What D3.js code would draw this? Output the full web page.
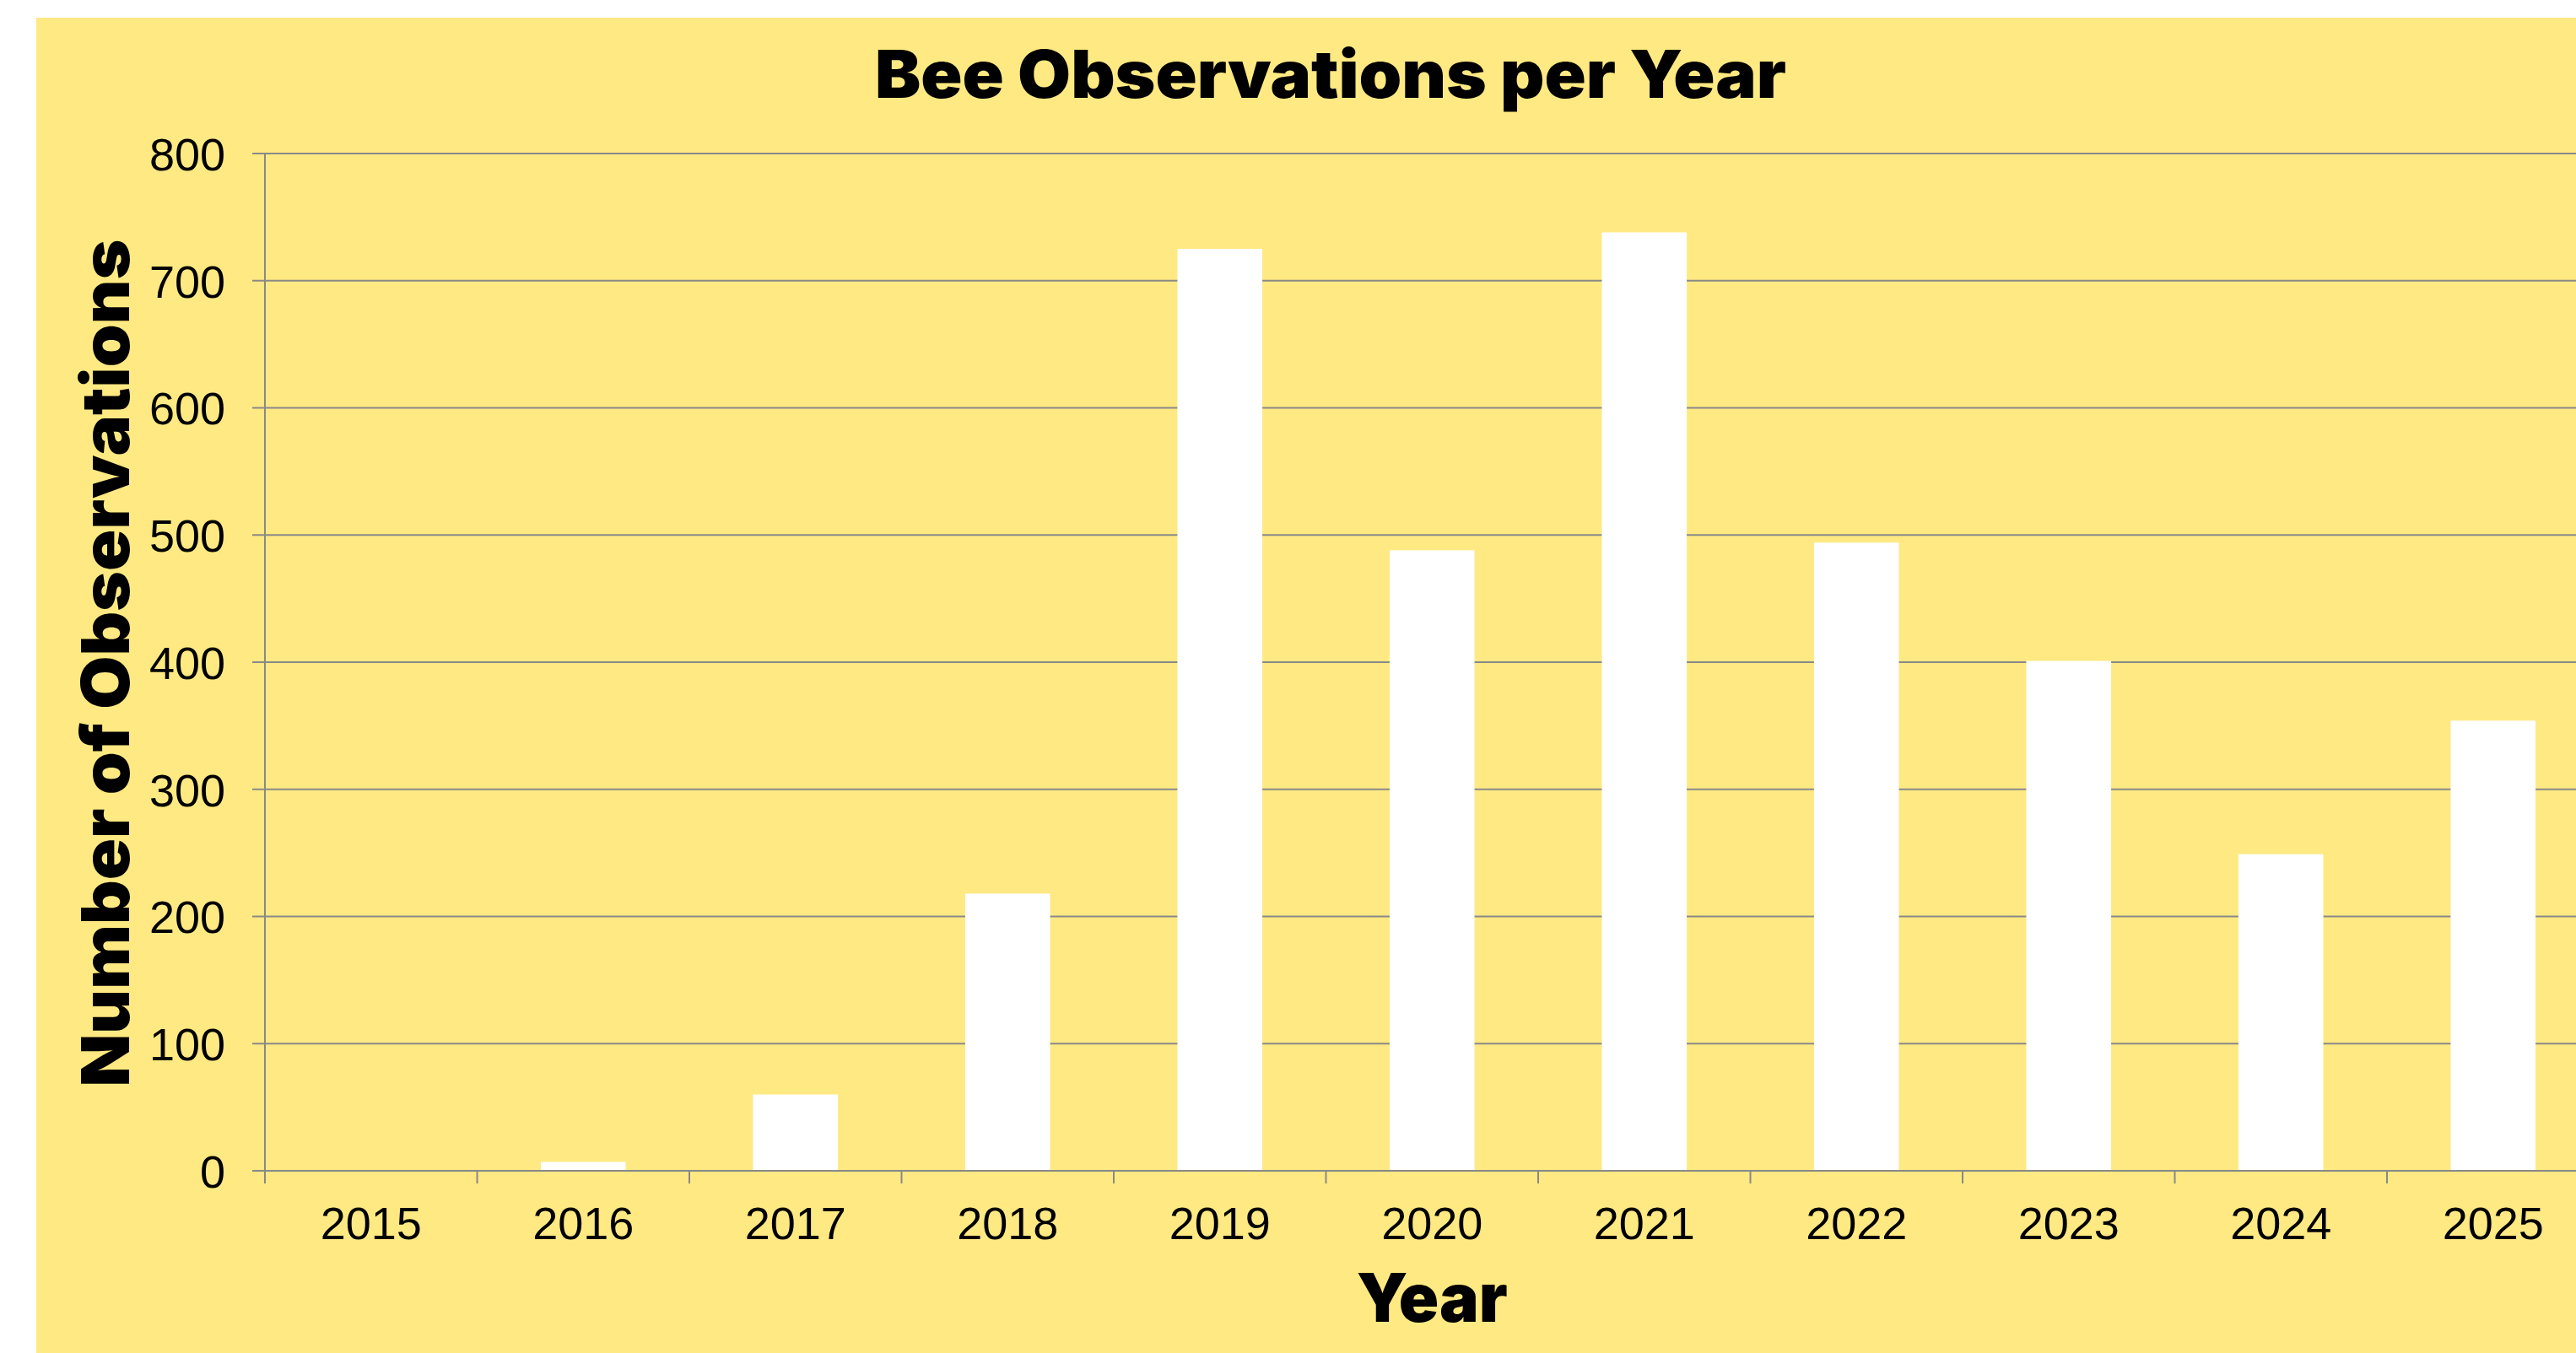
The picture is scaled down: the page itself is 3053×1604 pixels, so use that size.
<!DOCTYPE html>
<html lang="en">
<head>
    <meta charset="UTF-8">
    <title>Bee Observations per Year</title>
    <script src="https://d3js.org/d3.v7.min.js"></script>
    <style>
        body {
            margin: 0;
            background: #ffffff;
        }
        .tick-label {
            font-family: "Liberation Sans", Arial, sans-serif;
            font-size: 54px;
            fill: #000;
        }
        .heavy {
            font-family: Inter, Lato, "DejaVu Sans", sans-serif;
            font-weight: 900;
            fill: #000;
        }
    </style>
</head>
<body>
    <svg width="3053" height="1604"></svg>

    <script>
        // data
        const years = ["2015", "2016", "2017", "2018", "2019", "2020", "2021", "2022", "2023", "2024", "2025"];
        const observations = [0, 7, 60, 218, 725, 488, 738, 494, 401, 249, 354];
        const yTicks = [0, 100, 200, 300, 400, 500, 600, 700, 800];

        const svg = d3.select("svg");
        const gridColor = "#898989";

        // yellow panel (chart runs a bit past the right edge of the window)
        svg.append("rect")
            .attr("x", 43).attr("y", 21)
            .attr("width", 3100).attr("height", 1604)
            .attr("fill", "#ffe982");

        const plot = { left: 314, right: 3080.5, top: 182, bottom: 1388 };

        const x = d3.scaleBand()
            .domain(years)
            .range([plot.left, plot.right])
            .paddingInner(0.6)
            .paddingOuter(0.3);

        const y = d3.scaleLinear()
            .domain([0, 800])
            .range([plot.bottom, plot.top]);

        // gridlines incl. outward tick marks
        svg.append("g")
            .selectAll("line")
            .data(yTicks)
            .join("line")
            .attr("x1", plot.left - 15)
            .attr("x2", plot.right)
            .attr("y1", d => y(d))
            .attr("y2", d => y(d))
            .attr("stroke", gridColor)
            .attr("stroke-width", 2);

        // y axis line
        svg.append("line")
            .attr("x1", plot.left).attr("x2", plot.left)
            .attr("y1", plot.top).attr("y2", plot.bottom + 15)
            .attr("stroke", gridColor)
            .attr("stroke-width", 2);

        // category boundary ticks
        const bounds = d3.range(years.length + 1).map(i => plot.left + i * x.step());
        svg.append("g")
            .selectAll("line")
            .data(bounds)
            .join("line")
            .attr("x1", d => d).attr("x2", d => d)
            .attr("y1", plot.bottom).attr("y2", plot.bottom + 15)
            .attr("stroke", gridColor)
            .attr("stroke-width", 2);

        // bars
        svg.append("g")
            .selectAll("rect")
            .data(years)
            .join("rect")
            .attr("x", d => x(d))
            .attr("width", x.bandwidth())
            .attr("y", (d, i) => y(observations[i]))
            .attr("height", (d, i) => y(0) - y(observations[i]))
            .attr("fill", "#ffffff");

        // redraw baseline over the bars
        svg.append("line")
            .attr("x1", plot.left - 15).attr("x2", plot.right)
            .attr("y1", plot.bottom).attr("y2", plot.bottom)
            .attr("stroke", gridColor)
            .attr("stroke-width", 2);

        // y tick labels
        const yAxis = svg.append("g")
            .attr("transform", `translate(${plot.left},0)`)
            .call(d3.axisLeft(y).tickValues(yTicks).tickSize(0).tickPadding(47));
        yAxis.select(".domain").remove();
        yAxis.selectAll("text")
            .attr("class", "tick-label")
            .attr("font-size", null)
            .attr("font-family", null)
            .attr("dy", "0.36em");

        // x tick labels
        const xAxis = svg.append("g")
            .attr("transform", `translate(0,${plot.bottom})`)
            .call(d3.axisBottom(x).tickSize(0));
        xAxis.select(".domain").remove();
        xAxis.selectAll("text")
            .attr("class", "tick-label")
            .attr("font-size", null)
            .attr("font-family", null)
            .attr("dy", null)
            .attr("y", 81);

        // titles
        svg.append("text")
            .attr("class", "heavy")
            .attr("x", 1577).attr("y", 116)
            .attr("text-anchor", "middle")
            .attr("font-size", 78)
            .attr("textLength", 1080)
            .attr("lengthAdjust", "spacingAndGlyphs")
            .text("Bee Observations per Year");

        svg.append("text")
            .attr("class", "heavy")
            .attr("transform", "translate(153,786) rotate(-90)")
            .attr("text-anchor", "middle")
            .attr("font-size", 78)
            .attr("textLength", 1005)
            .attr("lengthAdjust", "spacingAndGlyphs")
            .text("Number of Observations");

        svg.append("text")
            .attr("class", "heavy")
            .attr("x", (plot.left + plot.right) / 2).attr("y", 1567)
            .attr("text-anchor", "middle")
            .attr("font-size", 80)
            .attr("textLength", 179)
            .attr("lengthAdjust", "spacingAndGlyphs")
            .text("Year");
    </script>
</body>
</html>
